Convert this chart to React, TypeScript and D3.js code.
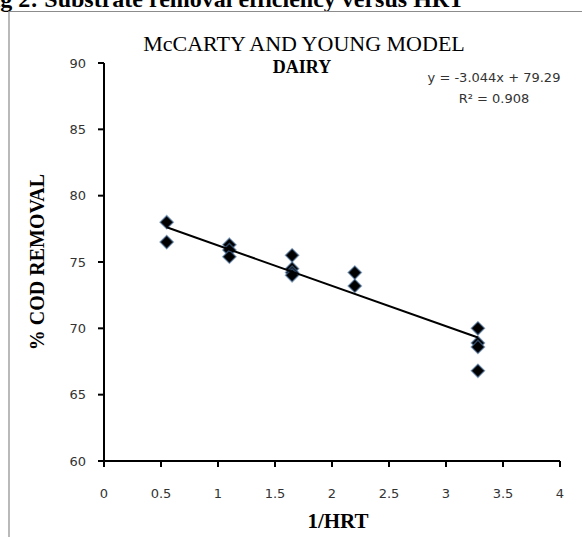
import * as d3 from "d3";

const W = 582;
const H = 537;

// 1/HRT values and % COD removal
const xValues = [0.55, 0.55, 1.1, 1.1, 1.1, 1.65, 1.65, 1.65, 1.65, 2.2, 2.2, 3.28, 3.28, 3.28, 3.28];
const yValues = [78.0, 76.5, 76.3, 75.9, 75.4, 75.5, 74.5, 74.2, 74.0, 74.2, 73.2, 70.0, 68.9, 68.6, 66.8];

const xTicks = [0, 0.5, 1, 1.5, 2, 2.5, 3, 3.5, 4];
const yTicks = [60, 65, 70, 75, 80, 85, 90];

// trendline as printed on the chart
const slope = -3.044;
const intercept = 79.29;

const serif = "'Liberation Serif', 'Times New Roman', serif";
const sans = "'DejaVu Sans', Verdana, sans-serif";

export default function App() {
  const x = d3.scaleLinear().domain([0, 4]).range([104, 560]);
  const y = d3.scaleLinear().domain([60, 90]).range([461, 63]);

  const xMin = d3.min(xValues) as number;
  const xMax = d3.max(xValues) as number;
  const trend = d3.line<number>()
    .x((d) => x(d))
    .y((d) => y(slope * d + intercept));

  const diamond = d3.symbol().type(d3.symbolDiamond2).size(110)();

  return (
    <svg
      width={W}
      height={H}
      style={{ position: "absolute", left: 0, top: 0, background: "#fff" }}
    >
      {/* figure caption, cut off at the top like in the source */}
      <text x={-21} y={7} fontFamily={serif} fontWeight="bold" fontSize={24} fill="#000">
        Fig 2: Substrate removal efficiency versus HRT
      </text>

      {/* chart frame */}
      <path d={`M9,${H} V11.5 H${W}`} fill="none" stroke="#8c8c8c" strokeWidth={1.2} />

      {/* titles */}
      <text x={304} y={51} textAnchor="middle" fontFamily={serif} fontSize={22}>
        McCARTY AND YOUNG MODEL
      </text>
      <text x={302} y={73} textAnchor="middle" fontFamily={serif} fontWeight="bold" fontSize={18}>
        DAIRY
      </text>

      {/* y axis */}
      <line x1={x(0)} x2={x(0)} y1={y(90)} y2={y(60)} stroke="#000" strokeWidth={2} />
      {yTicks.map((t) => (
        <g key={t}>
          <line x1={x(0) - 6} x2={x(0)} y1={y(t)} y2={y(t)} stroke="#000" strokeWidth={2} />
          <text x={86} y={y(t)} dy="0.35em" textAnchor="end" fontFamily={sans} fontSize={13} fill="#333">
            {t}
          </text>
        </g>
      ))}

      {/* x axis */}
      <line x1={x(0)} x2={x(4)} y1={y(60)} y2={y(60)} stroke="#000" strokeWidth={2} />
      {xTicks.map((t) => (
        <g key={t}>
          <line x1={x(t)} x2={x(t)} y1={y(60)} y2={y(60) + 6} stroke="#000" strokeWidth={2} />
          <text x={x(t)} y={493} dy="0.35em" textAnchor="middle" fontFamily={sans} fontSize={13} fill="#333">
            {t}
          </text>
        </g>
      ))}

      {/* axis titles */}
      <text x={338} y={528} textAnchor="middle" fontFamily={serif} fontWeight="bold" fontSize={21}>
        1/HRT
      </text>
      <text
        transform={`translate(44,${(y(60) + y(90)) / 2}) rotate(-90)`}
        textAnchor="middle"
        fontFamily={serif}
        fontWeight="bold"
        fontSize={20}
      >
        % COD REMOVAL
      </text>

      {/* points */}
      {xValues.map((v, i) => (
        <path
          key={i}
          d={diamond ?? ""}
          transform={`translate(${x(v)},${y(yValues[i])})`}
          fill="#000"
          stroke="#4a6f9c"
          strokeOpacity={0.6}
          strokeWidth={1.5}
        />
      ))}

      {/* trend line */}
      <path d={trend([xMin, xMax]) ?? ""} fill="none" stroke="#000" strokeWidth={2} />

      {/* equation */}
      <text x={494} y={77} dy="0.35em" textAnchor="middle" fontFamily={sans} fontSize={13} fill="#333">
        y = -3.044x + 79.29
      </text>
      <text x={494} y={98} dy="0.35em" textAnchor="middle" fontFamily={sans} fontSize={13} fill="#333">
        R² = 0.908
      </text>
    </svg>
  );
}
